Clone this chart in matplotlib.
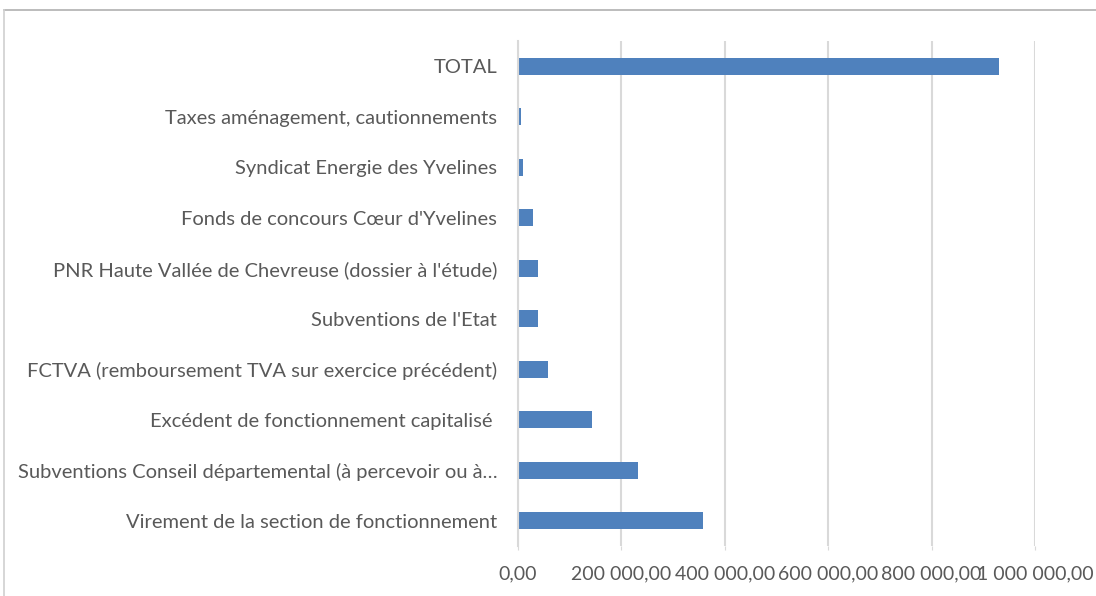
import matplotlib
matplotlib.use("Agg")
import matplotlib.pyplot as plt
from matplotlib.ticker import FuncFormatter
from matplotlib.lines import Line2D

categories = [
    "Virement de la section de fonctionnement",
    "Subventions Conseil départemental (à percevoir ou à…",
    "Excédent de fonctionnement capitalisé ",
    "FCTVA (remboursement TVA sur exercice précédent)",
    "Subventions de l'Etat",
    "PNR Haute Vallée de Chevreuse (dossier à l'étude)",
    "Fonds de concours Cœur d'Yvelines",
    "Syndicat Energie des Yvelines",
    "Taxes aménagement, cautionnements",
    "TOTAL",
]
values = [358000, 232000, 143000, 58000, 38000, 38700, 29000, 10000, 5500, 930000]
xticks = [0, 200000, 400000, 600000, 800000, 1000000]

plt.rcParams['font.family'] = ['Lato', 'DejaVu Sans']

fig = plt.figure(figsize=(10.96, 5.96), dpi=100)
ax = fig.add_axes([518/1096, 1-546/596, (1035-518)/1096, (546-41)/596])

ypos = list(range(len(categories)))
ax.barh(ypos, values, height=0.34, color="#4F81BD", zorder=3)
ax.set_ylim(-0.5, len(categories)-0.5)
ax.set_xlim(0, 1000000)
ax.set_yticks(ypos)
ax.set_yticklabels(categories, fontsize=14.5, color="#595959")
ax.set_xticks(xticks)

def fmt(v, pos):
    s = f"{v:,.2f}".replace(",", " ").replace(".", ",")
    return s
ax.xaxis.set_major_formatter(FuncFormatter(fmt))
ax.tick_params(axis='x', labelsize=14, labelcolor="#595959", length=3, color="#d9d9d9", pad=11)
ax.tick_params(axis='y', length=0, pad=15)
ax.grid(axis='x', color="#d9d9d9", linewidth=1.5, zorder=0)
for s in ['top', 'right', 'bottom']:
    ax.spines[s].set_visible(False)
ax.spines['left'].set_color("#d9d9d9")
ax.spines['left'].set_linewidth(1.5)
ax.spines['left'].set_zorder(4)

# outer frame (top and left border)
fig.add_artist(Line2D([4/1096, 1], [1-10/596, 1-10/596], transform=fig.transFigure, color="#b0b0b0", linewidth=1.2))
fig.add_artist(Line2D([4/1096, 4/1096], [0, 1-10/596], transform=fig.transFigure, color="#d0d0d0", linewidth=1.2))

fig.savefig("out.png", dpi=100)
